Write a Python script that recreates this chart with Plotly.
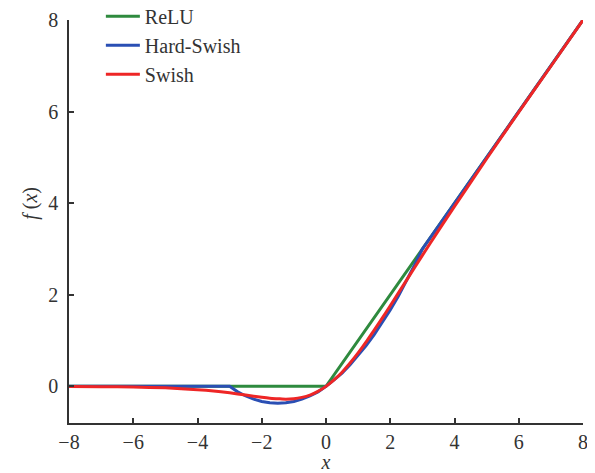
import plotly.graph_objects as go

# ReLU
relu_x = [-8, 0, 8]
relu_y = [0, 0, 8]

# Hard-Swish
hswish_x = [-8, -3, -2.75, -2.5, -2.25, -2, -1.75, -1.5, -1.25, -1, -0.75, -0.5, -0.25,
            0, 0.25, 0.5, 0.75, 1, 1.25, 1.5, 1.75, 2, 2.25, 2.5, 2.75, 3, 8]
hswish_y = [0, 0, -0.12, -0.21, -0.28, -0.33, -0.36, -0.37, -0.36, -0.33, -0.28, -0.21, -0.12,
            0, 0.14, 0.29, 0.47, 0.67, 0.89, 1.13, 1.39, 1.67, 1.97, 2.29, 2.64, 3.0, 8.0]

# Swish
swish_x = [-8, -7, -6, -5, -4, -3.5, -3, -2.5, -2, -1.75, -1.5, -1.25, -1, -0.75, -0.5, -0.25,
           0, 0.25, 0.5, 0.75, 1, 1.25, 1.5, 1.75, 2, 2.5, 3, 3.5, 4, 5, 6, 7, 8]
swish_y = [-0.003, -0.006, -0.015, -0.033, -0.072, -0.10, -0.14, -0.19, -0.24, -0.26, -0.27, -0.28,
           -0.27, -0.24, -0.19, -0.11, 0, 0.14, 0.31, 0.51, 0.73, 0.97, 1.23, 1.49, 1.76, 2.31,
           2.86, 3.40, 3.93, 4.97, 5.99, 6.99, 8.0]

x_ticks = [-8, -6, -4, -2, 0, 2, 4, 6, 8]
x_tick_labels = ["\u22128", "\u22126", "\u22124", "\u22122", "0", "2", "4", "6", "8"]
y_ticks = [0, 2, 4, 6, 8]
y_tick_labels = ["0", "2", "4", "6", "8"]

FONT = "Liberation Serif, Times New Roman, serif"
AX = "#333333"

fig = go.Figure()
fig.add_trace(go.Scatter(x=relu_x, y=relu_y, mode="lines", name="ReLU",
                         line=dict(color="#2e8a3e", width=3)))
fig.add_trace(go.Scatter(x=hswish_x, y=hswish_y, mode="lines", name="Hard-Swish",
                         line=dict(color="#2a4fb4", width=3)))
fig.add_trace(go.Scatter(x=swish_x, y=swish_y, mode="lines", name="Swish",
                         line=dict(color="#ee2626", width=3, shape="spline", smoothing=0.6)))

fig.add_annotation(text="<i>f</i> (<i>x</i>)", xref="paper", yref="paper",
                   x=-0.075, y=0.545, xanchor="center", yanchor="middle",
                   textangle=-90, showarrow=False,
                   font=dict(family=FONT, size=20, color=AX))

fig.update_layout(
    width=587, height=465,
    margin=dict(l=61, r=12, t=12, b=50, autoexpand=False),
    paper_bgcolor="white", plot_bgcolor="white",
    font=dict(family=FONT, size=20, color=AX),
    showlegend=True,
    legend=dict(x=0.062, y=1.058, xanchor="left", yanchor="top",
                bgcolor="rgba(0,0,0,0)", font=dict(family=FONT, size=20, color=AX),
                tracegroupgap=0, itemwidth=34),
    xaxis=dict(range=[-8, 8], tickvals=x_ticks, ticktext=x_tick_labels,
               showline=True, linecolor=AX, linewidth=1.5, ticks="inside", ticklen=5,
               tickcolor=AX, tickwidth=1.5, showgrid=False, zeroline=False, automargin=False,
               tickfont=dict(family=FONT, size=20, color=AX),
               title=dict(text="<i>x</i>", font=dict(family=FONT, size=20, color=AX), standoff=2)),
    yaxis=dict(range=[-0.8, 8], tickvals=y_ticks, ticktext=y_tick_labels,
               showline=True, linecolor=AX, linewidth=1.5, ticks="inside", ticklen=5,
               tickcolor=AX, tickwidth=1.5, showgrid=False, zeroline=False, automargin=False,
               tickfont=dict(family=FONT, size=20, color=AX), ticklabelstandoff=5),
)

fig.write_html("out.html")
